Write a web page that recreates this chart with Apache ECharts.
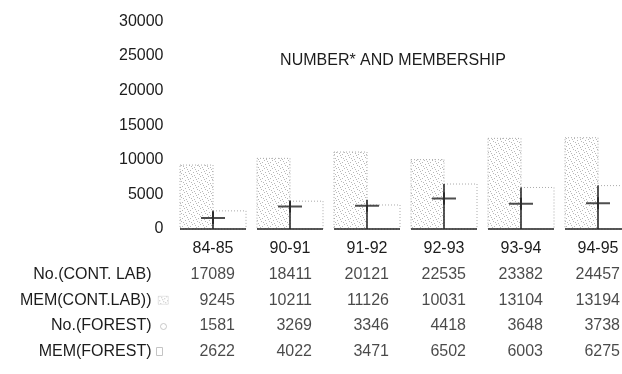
<!DOCTYPE html>
<html>
<head>
<meta charset="utf-8">
<script src="https://cdn.jsdelivr.net/npm/echarts@6/dist/echarts.min.js"></script>
<style>
  html, body { margin: 0; padding: 0; background: #fff; }
  #chart { width: 622px; height: 374px; }
</style>
</head>
<body>
<div id="chart"></div>
<script>
// data
var categories = ['84-85', '90-91', '91-92', '92-93', '93-94', '94-95'];
var noContLab  = [17089, 18411, 20121, 22535, 23382, 24457];
var memContLab = [9245, 10211, 11126, 10031, 13104, 13194];
var noForest   = [1581, 3269, 3346, 4418, 3648, 3738];
var memForest  = [2622, 4022, 3471, 6502, 6003, 6275];
var rowLabels  = ['No.(CONT. LAB)', 'MEM(CONT.LAB))', 'No.(FOREST)', 'MEM(FOREST)'];
var rowValues  = [noContLab, memContLab, noForest, memForest];

var FONT = 'Liberation Sans';
var INK = '#1c1c1c';
var FS = 16;
var BAR_W = 33;

// light stipple used for the MEM(CONT.LAB) bars
function stipple() {
    var c = document.createElement('canvas');
    c.width = 8; c.height = 8;
    var g = c.getContext('2d');
    g.fillStyle = '#fff';
    g.fillRect(0, 0, 8, 8);
    g.fillStyle = '#b8b8b8';
    [[0, 0], [3, 1], [6, 2], [1, 4], [5, 5], [2, 7], [7, 6], [4, 3]].forEach(function (p) {
        g.fillRect(p[0], p[1], 1, 1);
    });
    return { image: c, repeat: 'repeat' };
}
var dots = stipple();

// bars drawn through the axes: side -1 = left of the category centre, 1 = right
function barRenderer(side) {
    return function (params, api) {
        var base = api.coord([api.value(0), 0]);
        var top = api.coord([api.value(0), api.value(1)]);
        var x0 = side < 0 ? base[0] - BAR_W : base[0];
        var children = [{
            type: 'rect',
            shape: { x: x0, y: top[1], width: BAR_W, height: base[1] - top[1] },
            style: {
                fill: side < 0 ? dots : '#fff',
                stroke: '#aaa', lineWidth: 1, lineDash: [1, 2]
            }
        }, {
            type: 'line',
            shape: { x1: x0, y1: base[1], x2: x0 + BAR_W, y2: base[1] },
            style: { stroke: '#222', lineWidth: 1.5 }
        }];
        if (side > 0) {
            children.push({
                type: 'line',
                shape: { x1: x0, y1: base[1], x2: x0, y2: top[1] },
                style: { stroke: '#222', lineWidth: 1.5 }
            });
        }
        return { type: 'group', children: children };
    };
}

function pairs(arr) {
    return arr.map(function (v, i) { return [i, v]; });
}

var tableCells = [];
rowValues.forEach(function (vals, r) {
    vals.forEach(function (v, c) { tableCells.push([c, r, v]); });
});

var gridLeft = 174.5, gridWidth = 462;

var option = {
    animation: false,
    textStyle: { fontFamily: FONT },
    title: {
        text: 'NUMBER* AND MEMBERSHIP',
        left: 388, top: 48, textAlign: 'center',
        textStyle: { fontFamily: FONT, fontSize: FS, fontWeight: 'normal', color: INK }
    },
    legend: [
        { left: 158, top: 296, icon: 'rect', itemWidth: 10, itemHeight: 8, padding: 0,
          formatter: function () { return ''; },
          data: [{ name: 'MEM(CONT.LAB)', itemStyle: { color: dots, borderColor: '#ccc', borderWidth: 0.5 } }] },
        { left: 160, top: 323, icon: 'circle', itemWidth: 6, itemHeight: 6, padding: 0,
          formatter: function () { return ''; },
          data: [{ name: 'No.(FOREST)', itemStyle: { color: '#fff', borderColor: '#bbb', borderWidth: 1 } }] },
        { left: 156, top: 347, icon: 'rect', itemWidth: 6, itemHeight: 8, padding: 0,
          formatter: function () { return ''; },
          data: [{ name: 'MEM(FOREST)', itemStyle: { color: '#fff', borderColor: '#c4c4c4', borderWidth: 1 } }] }
    ],
    grid: [
        { left: gridLeft, width: gridWidth, top: 21.5, bottom: 145, outerBoundsMode: 'none' },
        { left: gridLeft, width: gridWidth, top: 262, height: 102, outerBoundsMode: 'none' }
    ],
    xAxis: [{
        type: 'category', gridIndex: 0, data: categories,
        axisLine: { show: false }, axisTick: { show: false },
        axisLabel: { margin: 12, fontSize: FS, color: INK, fontFamily: FONT }
    }, {
        type: 'category', gridIndex: 1, data: categories, show: false
    }],
    yAxis: [{
        type: 'value', gridIndex: 0, min: 0, max: 30000, interval: 5000,
        axisLine: { show: false }, axisTick: { show: false }, splitLine: { show: false },
        axisLabel: { margin: 11, fontSize: FS, color: INK, fontFamily: FONT,
            formatter: function (v) { return String(v); } }
    }, {
        type: 'category', gridIndex: 1, data: rowLabels, inverse: true,
        axisLine: { show: false }, axisTick: { show: false },
        axisLabel: { margin: 23, fontSize: FS, color: INK, fontFamily: FONT }
    }],
    series: [{
        name: 'MEM(CONT.LAB)', type: 'custom',
        renderItem: barRenderer(-1), data: pairs(memContLab), z: 2
    }, {
        name: 'MEM(FOREST)', type: 'custom',
        renderItem: barRenderer(1), data: pairs(memForest), z: 3
    }, {
        name: 'No.(FOREST)', type: 'scatter', data: noForest, z: 5,
        symbol: 'path://M0,5L24,5L24,7L0,7Z M11,0L13,0L13,12L11,12Z',
        symbolSize: [24, 12],
        itemStyle: { color: '#222' }
    }, {
        name: 'table', type: 'scatter', xAxisIndex: 1, yAxisIndex: 1,
        data: tableCells, symbolSize: 0, silent: true,
        label: {
            show: true, position: 'inside', align: 'right', offset: [22, 0],
            fontSize: FS, color: INK, fontFamily: FONT,
            formatter: function (p) { return p.value[2]; }
        }
    }]
};

echarts.init(document.getElementById('chart')).setOption(option);
</script>
</body>
</html>
